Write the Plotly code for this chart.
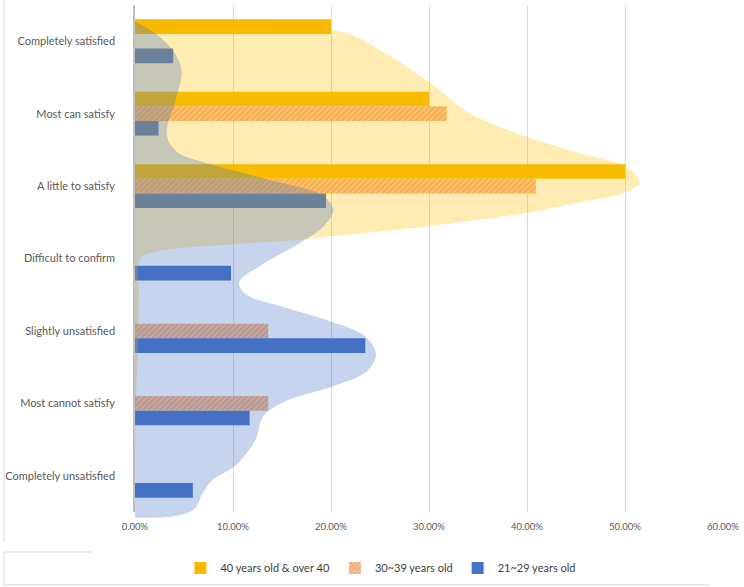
import plotly.graph_objects as go

# ---------------- data ----------------
categories = [
    "Completely satisfied",
    "Most can satisfy",
    "A little to satisfy",
    "Difficult to confirm",
    "Slightly unsatisfied",
    "Most cannot satisfy",
    "Completely unsatisfied",
]
series_names = ["40 years old & over 40", "30~39 years old", "21~29 years old"]

over40 = [20.0, 30.0, 50.0, 0.0, 0.0, 0.0, 0.0]
age30_39 = [0.0, 31.8, 40.9, 0.0, 13.6, 13.6, 0.0]
age21_29 = [3.9, 2.4, 19.5, 9.8, 23.5, 11.7, 5.9]

# smooth background shapes (percent value, position in category units)
area_over40_x = [0.0, 18.0, 21.5, 25.0, 30.0, 34.1, 40.0, 45.2, 50.0, 51.5, 50.0, 45.2,
                 40.0, 29.5, 20.2, 16.9, 10.5, 2.0, 0.5, 0.4, 0.3, 0.1, 0.0]
area_over40_pos = [-0.18, -0.17, -0.12, 0.12, 0.56, 0.99, 1.32, 1.54, 1.73, 1.94, 2.09, 2.23,
                   2.37, 2.56, 2.69, 2.74, 2.80, 2.91, 3.01, 3.50, 4.20, 5.00, 5.60]

area_21_29_x = [0.0, 2.02, 4.05, 4.76, 4.15, 3.24, 4.25, 6.78, 13.56, 19.12, 20.24, 19.23,
                16.90, 12.85, 10.62, 11.33, 14.87, 19.93, 23.47, 24.59, 23.68, 20.24, 15.38,
                13.05, 12.34, 10.32, 7.79, 6.78, 6.07, 4.25, 0.0]
area_21_29_pos = [-0.266, -0.114, 0.161, 0.423, 0.809, 1.290, 1.525, 1.662, 1.910, 2.131,
                  2.324, 2.558, 2.778, 3.095, 3.329, 3.494, 3.660, 3.866, 4.073, 4.321, 4.555,
                  4.762, 4.968, 5.189, 5.492, 5.850, 6.070, 6.277, 6.456, 6.553, 6.580]

x_ticks = [0, 10, 20, 30, 40, 50, 60]
x_tick_labels = [f"{v:.2f}%" for v in x_ticks]

# ---------------- geometry (pixels) ----------------
W, H = 744, 587
ML, MR, MT, MB = 133, 18, 5, 62
plot_h = H - MT - MB                      # 520
bar_bottom_px = 513
bar_domain_low = (H - MB - bar_bottom_px) / plot_h
unit_px = (bar_bottom_px - MT) / len(categories)
area_range_low = -0.5 + plot_h / unit_px

fig = go.Figure()

fig.add_trace(go.Bar(
    y=categories, x=over40, orientation="h", name=series_names[0],
    marker=dict(color="#F4B900", line=dict(width=0)),
    xaxis="x", yaxis="y", hoverinfo="skip"))
fig.add_trace(go.Bar(
    y=categories, x=age30_39, orientation="h", name=series_names[1],
    marker=dict(color="#ED7D31", line=dict(width=0),
                pattern=dict(shape="/", fgcolor="#EC7422", bgcolor="#FBE1CF",
                             size=4, solidity=0.8)),
    xaxis="x", yaxis="y", hoverinfo="skip"))
fig.add_trace(go.Bar(
    y=categories, x=age21_29, orientation="h", name=series_names[2],
    marker=dict(color="#4472C4", line=dict(width=0)),
    xaxis="x", yaxis="y", hoverinfo="skip"))

fig.add_trace(go.Scatter(
    x=area_over40_x, y=area_over40_pos, xaxis="x2", yaxis="y2", mode="lines",
    line=dict(shape="spline", smoothing=1, width=0, color="rgba(255,192,0,0)"),
    fill="tozerox", fillcolor="rgba(255,192,0,0.30)", showlegend=False, hoverinfo="skip"))
fig.add_trace(go.Scatter(
    x=area_21_29_x, y=area_21_29_pos, xaxis="x2", yaxis="y2", mode="lines",
    line=dict(shape="spline", smoothing=1, width=0, color="rgba(68,114,196,0)"),
    fill="tozerox", fillcolor="rgba(68,114,196,0.30)", showlegend=False, hoverinfo="skip"))

label_font = dict(family="Lato, 'Liberation Sans', sans-serif", size=11, color="#595959")

fig.update_layout(
    width=W, height=H,
    margin=dict(l=ML, r=MR, t=MT, b=MB),
    paper_bgcolor="white", plot_bgcolor="rgba(0,0,0,0)",
    barmode="group", bargap=0.394, bargroupgap=0,
    font=dict(family="Lato, 'Liberation Sans', sans-serif", color="#595959"),
    xaxis=dict(domain=[0, 1], anchor="y", range=[0, 60], tickvals=x_ticks,
               ticktext=x_tick_labels, showgrid=True, gridcolor="#d9d9d9",
               gridwidth=1, zeroline=False, showline=False, ticks="outside",
               ticklen=6, tickcolor="rgba(0,0,0,0)",
               tickfont=dict(family="Lato, sans-serif", size=9.5, color="#595959")),
    yaxis=dict(domain=[bar_domain_low, 1], anchor="x", type="category",
               categoryorder="array", categoryarray=categories,
               range=[len(categories) - 0.5, -0.5], showgrid=False, zeroline=False,
               showline=True, linecolor="#bfbfbf", linewidth=1.5, ticks="",
               ticklabelstandoff=16, tickfont=label_font),
    xaxis2=dict(domain=[0, 1], anchor="y2", range=[0, 60], visible=False),
    yaxis2=dict(domain=[0, 1], anchor="x2", range=[area_range_low, -0.5], visible=False),
    legend=dict(orientation="h", x=(381 - ML) / (W - ML - MR), xanchor="center",
                y=(H - MB - 569) / plot_h, yanchor="middle",
                font=dict(family="Lato, sans-serif", size=11, color="#404040"),
                itemwidth=30, bgcolor="rgba(0,0,0,0)"),
    showlegend=True,
)


def px_x(p):
    return (p - ML) / (W - ML - MR)


def px_y(p):
    return (H - MB - p) / plot_h


frame = dict(color="#d9d9d9", width=1)
fig.add_shape(type="line", xref="paper", yref="paper", x0=px_x(1), x1=px_x(1),
              y0=px_y(0), y1=px_y(543), line=frame)
fig.add_shape(type="line", xref="paper", yref="paper", x0=px_x(1), x1=px_x(1),
              y0=px_y(553), y1=px_y(586), line=frame)
fig.add_shape(type="line", xref="paper", yref="paper", x0=px_x(0), x1=px_x(713),
              y0=px_y(586), y1=px_y(586), line=frame)
fig.add_shape(type="line", xref="paper", yref="paper", x0=px_x(0), x1=px_x(90),
              y0=px_y(553), y1=px_y(553), line=frame)

fig.write_html("out.html")
